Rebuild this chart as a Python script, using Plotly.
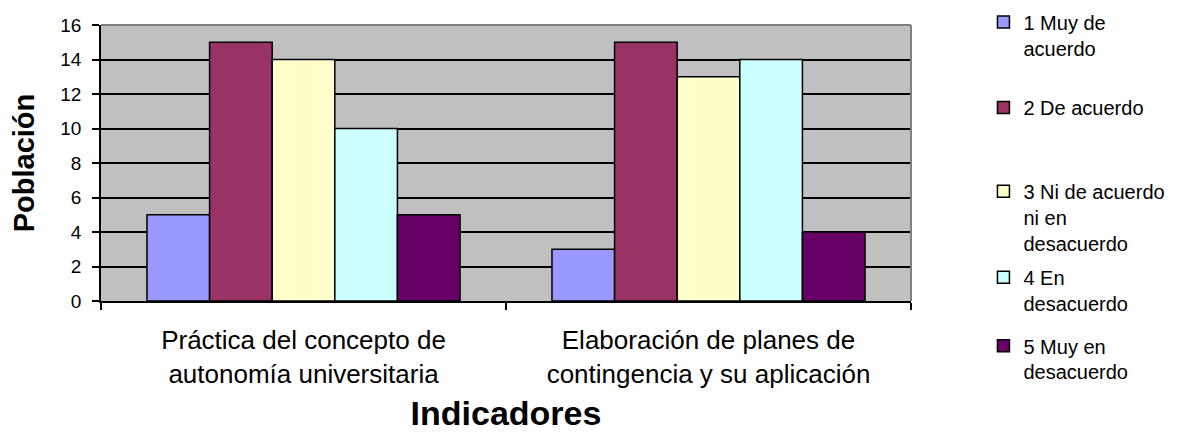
import plotly.graph_objects as go

categories = ["Práctica del concepto de<br>autonomía universitaria",
              "Elaboración de planes de<br>contingencia y su aplicación"]
series_names = ["1 Muy de<br>acuerdo", "2 De acuerdo", "3 Ni de acuerdo<br>ni en<br>desacuerdo",
                "4 En<br>desacuerdo", "5 Muy en<br>desacuerdo"]
values = [
    [5, 3],
    [15, 15],
    [14, 13],
    [10, 14],
    [5, 4],
]
colors = ["#9999FF", "#993366", "#FFFFCC", "#CCFFFF", "#660066"]
y_ticks = [0, 2, 4, 6, 8, 10, 12, 14, 16]

FONT = "Liberation Sans, Arial, sans-serif"

fig = go.Figure()
legend_ids = ["legend", "legend2", "legend3", "legend4", "legend5"]
legend_y = [0.937, 0.814, 0.619, 0.419, 0.260]
legend_anchor = ["middle", "top", "top", "top", "top"]
for i, (name, vals, col) in enumerate(zip(series_names, values, colors)):
    fig.add_trace(go.Bar(
        x=categories, y=vals, name=name,
        marker=dict(color=col, line=dict(color="black", width=1.5)),
        legend=legend_ids[i],
    ))

layout_legends = {}
for i, lid in enumerate(legend_ids):
    layout_legends[lid] = dict(
        xref="container", yref="container",
        x=0.833, y=legend_y[i], xanchor="left", yanchor=legend_anchor[i],
        font=dict(family=FONT, size=20, color="black"),
        bgcolor="rgba(0,0,0,0)", valign="top", tracegroupgap=0,
        itemwidth=30,
    )

# page body adds an 8px offset; margins compensate
fig.update_layout(
    width=1171, height=430,
    margin=dict(l=93, r=268, t=17, b=137, autoexpand=False),
    paper_bgcolor="white", plot_bgcolor="#C0C0C0",
    barmode="group", bargap=0.227, bargroupgap=0,
    font=dict(family=FONT, color="black"),
    showlegend=True,
    **layout_legends,
)
fig.update_xaxes(
    showline=True, linecolor="black", linewidth=1.5,
    ticks="outside", tickson="boundaries", ticklen=7, tickcolor="black", tickwidth=1.5,
    tickfont=dict(family=FONT, size=26, color="black"),
    ticklabelstandoff=15,
    title=dict(text="<b>Indicadores</b>", font=dict(family=FONT, size=34, color="black"), standoff=13),
    showgrid=False,
)
fig.update_yaxes(
    range=[0, 16], tickvals=y_ticks,
    showline=True, linecolor="black", linewidth=1.5,
    ticks="outside", ticklen=7, tickcolor="black", tickwidth=1.5,
    tickfont=dict(family=FONT, size=19, color="black"),
    ticklabelstandoff=7,
    showgrid=True, gridcolor="black", gridwidth=1.5,
    zeroline=False,
    title=dict(text="<b>Población</b>", font=dict(family=FONT, size=29, color="black"), standoff=17),
)
# gray plot-area frame (top and right)
fig.add_shape(type="line", xref="paper", yref="paper", x0=0, x1=1, y0=1, y1=1,
              line=dict(color="#808080", width=2), layer="above")
fig.add_shape(type="line", xref="paper", yref="paper", x0=1, x1=1, y0=0, y1=1,
              line=dict(color="#808080", width=2), layer="above")

fig.write_html("out.html")
